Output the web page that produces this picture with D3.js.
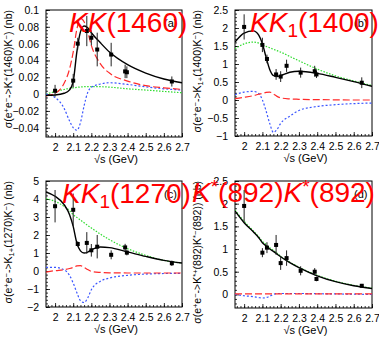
<!DOCTYPE html>
<html lang="en">
<head>
<meta charset="utf-8">
<title>e+e- cross sections, four channels</title>
<script src="https://d3js.org/d3.v7.min.js"></script>
<style>
body { margin: 0; background: #fff; }
text { font-family: "Liberation Sans", Arial, sans-serif; }
</style>
</head>
<body>
<div id="mainDiv"></div>
<script>
const width = 379
const height = 338

// measured energy points (GeV)
const sqrtS = [2.0, 2.1, 2.125, 2.175, 2.2, 2.2324, 2.3094, 2.3864, 2.396, 2.644]

const xsecA = [0.004, 0.016, 0.060, 0.075, 0.067, 0.053, 0.047, 0.027, 0.026, 0.015]
const errA = [0.007, 0.008, 0.007, 0.018, 0.009, 0.020, 0.014, 0.008, 0.007, 0.006]
const xsecB = [2.03, 1.53, 1.14, 0.71, 0.65, 0.95, 0.76, 0.80, 0.71, 0.48]
const errB = [0.35, 0.20, 0.12, 0.15, 0.15, 0.17, 0.14, 0.15, 0.10, 0.15]
const xsecC = [3.6, 3.4, 1.5, 1.56, 1.15, 1.35, 0.9, 1.31, 1.02, 0.43]
const errC = [0.9, 0.9, 0.15, 0.6, 0.35, 0.65, 0.25, 0.2, 0.15, 0.15]
const xsecD = [1.95, 0.92, 1.03, 1.09, 0.69, 0.80, 0.52, 0.50, 0.34, 0.19]
const errD = [0.35, 0.10, 0.12, 0.22, 0.15, 0.17, 0.10, 0.08, 0.05, 0.04]

// fit curves
const curveGrid = [1.95, 2.0, 2.05, 2.08, 2.1, 2.12, 2.14, 2.16, 2.18, 2.2, 2.25, 2.3, 2.4, 2.5, 2.6, 2.7]

const totalA = [-0.0015, -0.001, 0.001, 0.005, 0.015, 0.050, 0.074, 0.081, 0.079, 0.073, 0.061, 0.050, 0.035, 0.025, 0.018, 0.0135]
const redA = [-0.002, 0.001, 0.013, 0.030, 0.050, 0.077, 0.090, 0.086, 0.074, 0.058, 0.036, 0.025, 0.0155, 0.010, 0.0075, 0.0056]
const blueA = [0.0, -0.004, -0.017, -0.032, -0.040, -0.043, -0.034, -0.014, 0.002, 0.008, 0.012, 0.0135, 0.0115, 0.0087, 0.0063, 0.0048]
const greenA = [0.0, 0.003, 0.0055, 0.007, 0.0075, 0.008, 0.0085, 0.0088, 0.009, 0.009, 0.0088, 0.0083, 0.0063, 0.0048, 0.0032, 0.0016]

const totalB = [1.61, 1.86, 1.92, 1.80, 1.56, 1.19, 0.85, 0.68, 0.65, 0.68, 0.77, 0.80, 0.74, 0.63, 0.51, 0.38]
const redB = [0.04, 0.075, 0.12, 0.16, 0.18, 0.21, 0.22, 0.17, 0.10, 0.06, 0.03, 0.02, 0.01, 0.005, 0.0, 0.0]
const blueB = [0.15, 0.22, 0.24, 0.18, 0.0, -0.3, -0.65, -0.9, -0.82, -0.65, -0.45, -0.29, -0.18, -0.13, -0.10, -0.085]
const greenB = [1.42, 1.56, 1.61, 1.58, 1.53, 1.49, 1.45, 1.41, 1.37, 1.33, 1.21, 1.09, 0.86, 0.67, 0.53, 0.40]

const totalC = [4.39, 4.15, 3.69, 3.13, 2.48, 1.56, 1.12, 1.0, 1.05, 1.17, 1.33, 1.30, 1.06, 0.81, 0.59, 0.44]
const redC = [-0.06, 0.02, 0.07, 0.14, 0.2, 0.28, 0.3, 0.2, 0.08, -0.02, -0.08, -0.1, -0.11, -0.11, -0.11, -0.11]
const blueC = [0.2, 0.2, 0.07, -0.25, -0.67, -1.2, -1.65, -1.75, -1.5, -1.04, -0.57, -0.39, -0.24, -0.17, -0.14, -0.13]
const greenC = [4.02, 3.87, 3.59, 3.35, 3.13, 2.98, 2.83, 2.68, 2.53, 2.39, 2.05, 1.74, 1.24, 0.87, 0.59, 0.44]

const totalD = [1.84, 1.58, 1.38, 1.25, 1.14, 1.07, 1.0, 0.95, 0.89, 0.83, 0.70, 0.59, 0.41, 0.28, 0.19, 0.13]
const redD = [0.01, 0.01, 0.01, 0.01, 0.01, 0.01, 0.01, 0.01, 0.01, 0.01, 0.01, 0.01, 0.01, 0.01, 0.01, 0.01]
const blueD = [0.0, -0.03, -0.05, -0.07, -0.08, -0.07, -0.04, 0.0, 0.02, 0.02, 0.02, 0.02, 0.015, 0.01, 0.005, 0.0]
const greenD = [1.86, 1.61, 1.40, 1.27, 1.17, 1.10, 1.03, 0.97, 0.91, 0.84, 0.71, 0.60, 0.42, 0.29, 0.20, 0.14]

const xDomain = [1.95, 2.7]
const xTicks = [2.0, 2.1, 2.2, 2.3, 2.4, 2.5, 2.6, 2.7]

const panels = [
    { id: 'a', box: [46, 10, 182, 137], yDomain: [-0.051, 0.1], yTicks: [-0.04, -0.02, 0, 0.02, 0.04, 0.06, 0.08, 0.1], yMinor: 0.004,
      xsec: xsecA, err: errA, curves: [greenA, blueA, redA, totalA],
      yTitle: ['σ(e', '+', 'e', '−', '->K', '+', '(1460)K', '−', ') (nb)'], titleX: 12,
      name: [['K', 'i'], ['K', 'i'], ['(1460)', 'n']], nameX: 69, nameY: 32, tag: '(a)' },
    { id: 'b', box: [235, 10, 372, 136], yDomain: [-1, 2.5], yTicks: [-1, -0.5, 0, 0.5, 1, 1.5, 2, 2.5], yMinor: 0.1,
      xsec: xsecB, err: errB, curves: [greenB, blueB, redB, totalB],
      yTitle: ['σ(e', '+', 'e', '−', '->K', '1+', '(1400)K', '−', ') (nb)'], titleX: 201,
      name: [['K', 'i'], ['K', 'i'], ['1', 's'], ['(1400)', 'n']], nameX: 250, nameY: 32, tag: '(b)' },
    { id: 'c', box: [46, 181, 182, 307], yDomain: [-2, 5], yTicks: [-2, -1, 0, 1, 2, 3, 4, 5], yMinor: 0.2,
      xsec: xsecC, err: errC, curves: [greenC, blueC, redC, totalC],
      yTitle: ['σ(e', '+', 'e', '−', '->K', '1+', '(1270)K', '−', ') (nb)'], titleX: 12,
      name: [['K', 'i'], ['K', 'i'], ['1', 's'], ['(1270)', 'n']], nameX: 62, nameY: 203, tag: '(c)' },
    { id: 'd', box: [235, 181, 372, 308], yDomain: [-0.3, 2.5], yTicks: [0, 0.5, 1, 1.5, 2, 2.5], yMinor: 0.1,
      xsec: xsecD, err: errD, curves: [greenD, blueD, redD, totalD],
      yTitle: ['σ(e', '+', 'e', '−', '->K', '*+', '(892)K', '*−', '(892)) (nb)'], titleX: 201,
      name: [['K', 'i'], ['*', 'p'], ['(892)', 'n'], ['K', 'i'], ['*', 'p'], ['(892)', 'n']], nameX: 192, nameY: 202, tag: '(d)' }
]

const curveStyles = [
    { color: '#2fdc2f', dash: '1.5,1.5', w: 1.2 },
    { color: '#3a55ff', dash: '2,2', w: 1.2 },
    { color: '#ff2a2a', dash: '7,3', w: 1.2 },
    { color: '#000000', dash: null, w: 1.4 }
]

const svg = d3.select('#mainDiv').append('svg')
    .attr('width', width)
    .attr('height', height)

panels.forEach((p) => {
    const [x0, y0, x1, y1] = p.box
    const x = d3.scaleLinear().domain(xDomain).range([x0, x1])
    const y = d3.scaleLinear().domain(p.yDomain).range([y1, y0])
    const g = svg.append('g')

    // minor ticks
    const xMinor = d3.range(1.96, 2.7001, 0.02)
    g.append('g').attr('transform', `translate(0,${y1})`)
        .call(d3.axisBottom(x).tickValues(xMinor).tickSize(-2).tickFormat(''))
    const yMinorVals = d3.range(Math.ceil(p.yDomain[0] / p.yMinor) * p.yMinor, p.yDomain[1] + 1e-9, p.yMinor)
    g.append('g').attr('transform', `translate(${x0},0)`)
        .call(d3.axisLeft(y).tickValues(yMinorVals).tickSize(-2).tickFormat(''))

    // major ticks
    g.append('g').attr('transform', `translate(0,${y1})`)
        .call(d3.axisBottom(x).tickValues(xTicks).tickSize(-4).tickPadding(7).tickFormat(d => +d.toFixed(2)))
    g.append('g').attr('transform', `translate(${x0},0)`)
        .call(d3.axisLeft(y).tickValues(p.yTicks).tickSize(-4).tickPadding(7).tickFormat(d => String(+d.toFixed(3)).replace('-', '−')))

    g.selectAll('.domain').remove()
    g.selectAll('.tick line').attr('stroke', '#000').attr('stroke-width', 0.8)
    g.selectAll('.tick text').attr('font-size', 10.5).attr('fill', '#000')
        .attr('font-family', '"Liberation Sans", Arial, sans-serif')

    g.append('rect')
        .attr('x', x0).attr('y', y0)
        .attr('width', x1 - x0).attr('height', y1 - y0)
        .attr('fill', 'none').attr('stroke', '#000').attr('stroke-width', 1)

    // clip
    svg.append('clipPath').attr('id', 'clip' + p.id)
        .append('rect').attr('x', x0).attr('y', y0).attr('width', x1 - x0).attr('height', y1 - y0)

    const line = d3.line()
        .x((d, i) => x(curveGrid[i]))
        .y(d => y(d))
        .curve(d3.curveMonotoneX)

    p.curves.forEach((vals, k) => {
        const s = curveStyles[k]
        g.append('path')
            .attr('clip-path', `url(#clip${p.id})`)
            .attr('d', line(vals))
            .attr('fill', 'none')
            .attr('stroke', s.color)
            .attr('stroke-width', s.w)
            .attr('stroke-dasharray', s.dash)
    })

    // data points
    const pts = sqrtS.map((s, i) => ({ s: s, v: p.xsec[i], e: p.err[i] }))
    g.selectAll('.err').data(pts).enter().append('line')
        .attr('x1', d => x(d.s)).attr('x2', d => x(d.s))
        .attr('y1', d => y(d.v - d.e)).attr('y2', d => y(d.v + d.e))
        .attr('stroke', '#222').attr('stroke-width', 1)
    g.selectAll('.pt').data(pts).enter().append('rect')
        .attr('x', d => x(d.s) - 2).attr('y', d => y(d.v) - 2)
        .attr('width', 4).attr('height', 4)
        .attr('fill', '#000')

    // axis titles
    g.append('text')
        .attr('x', (x0 + x1) / 2 + 2).attr('y', y1 + 26)
        .attr('text-anchor', 'middle').attr('font-size', 11)
        .text('√s (GeV)')

    const yt = g.append('text')
        .attr('transform', `translate(${p.titleX},${y0}) rotate(-90)`)
        .attr('text-anchor', 'end').attr('font-size', 10.5)
    p.yTitle.forEach((part, i) => {
        const sup = i % 2 === 1
        yt.append('tspan')
            .attr('baseline-shift', sup ? (part.startsWith('1') ? '-20%' : '40%') : null)
            .attr('font-size', sup ? 7.5 : 10.5)
            .text(part)
    })

    g.append('text')
        .attr('x', x1 - 18).attr('y', y0 + 17)
        .attr('font-size', 11).attr('fill', '#000')
        .text(p.tag)

    const nm = svg.append('text')
        .attr('x', p.nameX).attr('y', p.nameY)
        .attr('fill', '#ff0000')
        .attr('font-family', '"DejaVu Sans", sans-serif')
        .attr('font-size', 28)
    p.name.forEach(([t, st]) => {
        const ts = nm.append('tspan').text(t)
        if (st === 'i') ts.attr('font-style', 'italic')
        if (st === 's') ts.attr('font-size', 19).attr('baseline-shift', '-25%')
        if (st === 'p') ts.attr('font-size', 19).attr('baseline-shift', '45%')
    })
})
</script>
</body>
</html>
